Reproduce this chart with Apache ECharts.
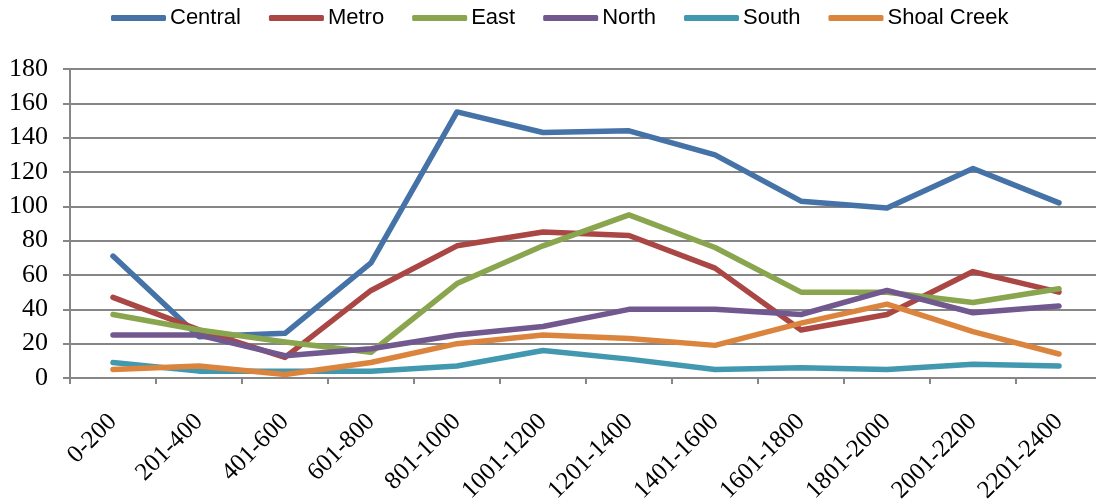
<!DOCTYPE html>
<html>
<head>
<meta charset="utf-8">
<script src="https://cdn.jsdelivr.net/npm/echarts@6/dist/echarts.min.js"></script>
<style>
  html, body { margin: 0; padding: 0; background: #fff; }
  #main { width: 1096px; height: 504px; }
</style>
</head>
<body>
<div id="main"></div>
<script>
// ranges on the x axis
var categories = ['0-200', '201-400', '401-600', '601-800', '801-1000', '1001-1200',
  '1201-1400', '1401-1600', '1601-1800', '1801-2000', '2001-2200', '2201-2400'];

var central = [71, 24, 26, 67, 155, 143, 144, 130, 103, 99, 122, 102];
var metro = [47, 28, 12, 51, 77, 85, 83, 64, 28, 37, 62, 50];
var east = [37, 28, 21, 15, 55, 77, 95, 76, 50, 50, 44, 52];
var north = [25, 25, 13, 17, 25, 30, 40, 40, 37, 51, 38, 42];
var south = [9, 4, 4, 4, 7, 16, 11, 5, 6, 5, 8, 7];
var shoalCreek = [5, 7, 2, 9, 20, 25, 23, 19, 32, 43, 27, 14];

var seriesNames = ['Central', 'Metro', 'East', 'North', 'South', 'Shoal Creek'];
var seriesData = [central, metro, east, north, south, shoalCreek];
var colors = ['#4572A7', '#AA4643', '#89A54E', '#71588F', '#4198AF', '#DB843D'];

var chart = echarts.init(document.getElementById('main'));

var series = seriesNames.map(function (name, i) {
  return {
    name: name,
    type: 'line',
    data: seriesData[i],
    symbol: 'none',
    lineStyle: { width: 5.5, cap: 'round', join: 'round' },
    emphasis: { disabled: true }
  };
});

var option = {
  backgroundColor: '#ffffff',
  color: colors,
  animation: false,
  legend: {
    top: 2,
    left: 106,
    itemWidth: 55,
    itemHeight: 6,
    itemGap: 28,
    icon: 'roundRect',
    textStyle: {
      fontFamily: '"Liberation Sans Narrow", "Arial Narrow", "Liberation Sans", Arial, sans-serif',
      fontSize: 22,
      padding: [0, 0, 0, -1],
      color: '#000'
    },
    data: seriesNames
  },
  grid: {
    left: 70,
    right: -6,
    top: 69,
    bottom: 126,
    containLabel: false,
    outerBoundsMode: 'none'
  },
  xAxis: {
    type: 'category',
    data: categories,
    boundaryGap: true,
    axisLine: { lineStyle: { color: '#868686', width: 2 } },
    axisTick: { show: true, length: 6, lineStyle: { color: '#868686', width: 2 } },
    axisLabel: {
      rotate: 45,
      margin: 40,
      fontFamily: '"Liberation Serif", "Times New Roman", serif',
      fontSize: 25,
      color: '#000',
      interval: 0
    }
  },
  yAxis: {
    type: 'value',
    min: 0,
    max: 180,
    interval: 20,
    axisLine: { show: true, lineStyle: { color: '#868686', width: 2 } },
    axisTick: { show: true, length: 7, lineStyle: { color: '#868686', width: 2 } },
    splitLine: { lineStyle: { color: '#868686', width: 2 } },
    axisLabel: {
      margin: 22,
      fontFamily: '"Liberation Serif", "Times New Roman", serif',
      fontSize: 26,
      color: '#000'
    }
  },
  series: series
};

chart.setOption(option);
</script>
</body>
</html>
